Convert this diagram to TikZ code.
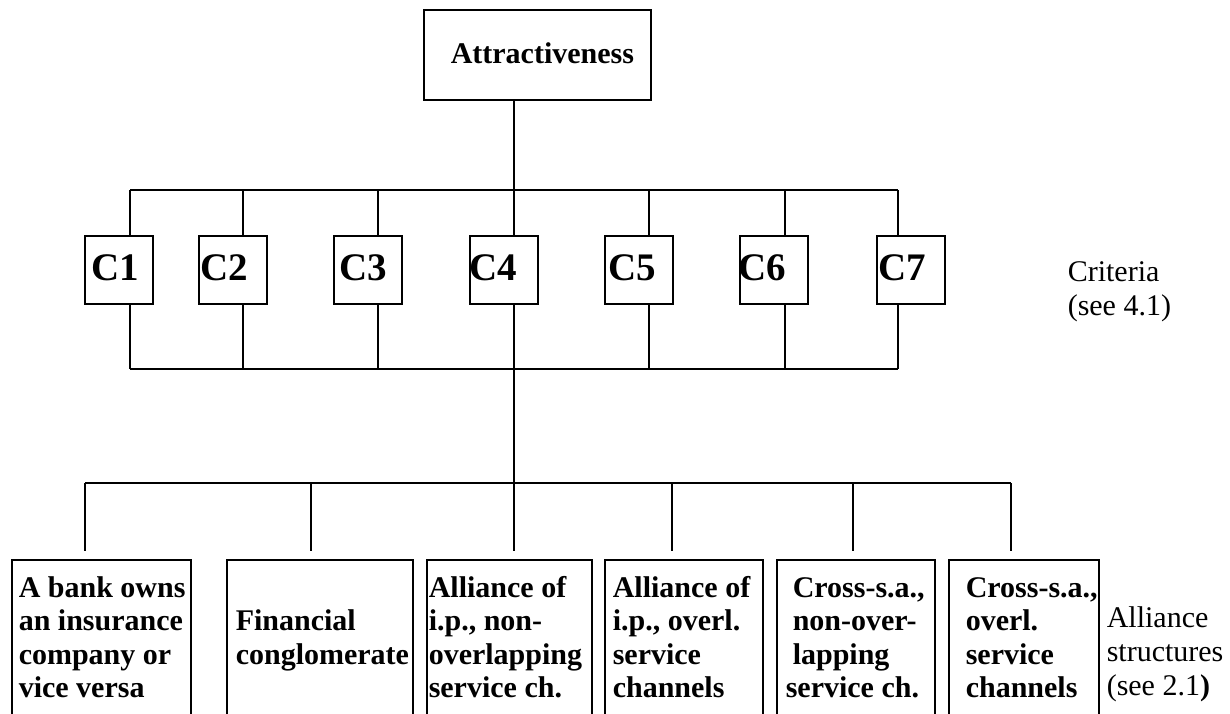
\documentclass[tikz,border=0pt]{standalone}
\usepackage{fontspec}
\setmainfont{Liberation Serif}
\begin{document}
\begin{tikzpicture}[x=1pt,y=-1pt,line width=1.5pt,
  box/.style={draw,rectangle,inner sep=0pt,anchor=north west},
  ctext/.style={inner sep=0pt,anchor=base west,font=\bfseries\fontsize{39}{44}\selectfont},
  btext/.style={inner sep=0pt,anchor=base west,align=left,font=\bfseries\fontsize{30}{33.5}\selectfont},
  ntext/.style={inner sep=0pt,anchor=base west,align=left,font=\fontsize{30}{34}\selectfont},
  link/.style={draw,line width=1.5pt}]
\useasboundingbox (0,0) rectangle (1230,713);
\clip (0,0) rectangle (1230,713);

% top box
\node[box,minimum width=227pt,minimum height=90pt] (attr) at (423,9) {};
\node[btext] (attrt) at (450,63) {Attractiveness};

% criteria boxes
\foreach \n/\x in {1/84,2/198,3/333,4/469,5/604,6/739,7/876}
  \node[box,minimum width=68pt,minimum height=68pt] (C\n) at (\x,235) {};
\foreach \n/\x in {1/91,2/200,3/339,4/469,5/608,6/738,7/878}
  \node[ctext] (C\n t) at (\x,280) {C\n};

% connector coordinates
\foreach \n/\x in {1/130,2/243,3/378,4/514,5/649,6/785,7/898}{
  \coordinate (u\n) at (\x,190);
  \coordinate (d\n) at (\x,369);
}
\coordinate (m) at (514,483);
\foreach \n/\x in {1/85,2/311,3/514,4/672,5/853,6/1011}
  \coordinate (s\n) at (\x,483);

% bottom boxes (cut off by the lower edge)
\node[box,minimum width=179pt,minimum height=190pt] (B1) at (11,559) {};
\node[box,minimum width=186pt,minimum height=190pt] (B2) at (226,559) {};
\node[box,minimum width=165pt,minimum height=190pt] (B3) at (426,559) {};
\node[box,minimum width=158pt,minimum height=190pt] (B4) at (604,559) {};
\node[box,minimum width=158pt,minimum height=190pt] (B5) at (776,559) {};
\node[box,minimum width=150pt,minimum height=190pt] (B6) at (948,559) {};

% (base anchor = baseline of the last line)
\node[btext] (B1t) at (18,697.5) {A bank owns\\an insurance\\company or\\vice versa};
\node[btext] (B2t) at (235,664) {Financial\\conglomerate};
\node[btext] (B3t) at (428,697.5) {Alliance of\\i.p., non-\\overlapping\\service ch.};
\node[btext] (B4t) at (612,697.5) {Alliance of\\i.p., overl.\\service\\channels};
\node[btext] (B5t) at (785,697.5) {\hspace{7pt}Cross-s.a.,\\\hspace{7pt}non-over-\\\hspace{7pt}lapping\\service ch.};
\node[btext] (B6t) at (965,697.5) {Cross-s.a.,\\overl.\\service\\channels};

% side notes
\node[ntext] (crit) at (1067,315) {Criteria\\(see 4.1)};
\node[ntext] (alli) at (1106,695) {Alliance\\structures\\(see 2.1{\bfseries )}};

% connectors
\draw[link] (attr.south -| u4) -- (u4);
\draw[link] (u1) -- (u7);
\foreach \n in {1,...,7}{
  \draw[link] (u\n) -- (u\n |- C\n.north);
  \draw[link] (C\n.south -| d\n) -- (d\n);
}
\draw[link] (d1) -- (d7);
\draw[link] (d4) -- (m);
\draw[link] (s1) -- (s6);
\foreach \n in {1,...,6}
  \draw[link,shorten >=8pt] (s\n) -- (s\n |- B\n.north);
\end{tikzpicture}
\end{document}
